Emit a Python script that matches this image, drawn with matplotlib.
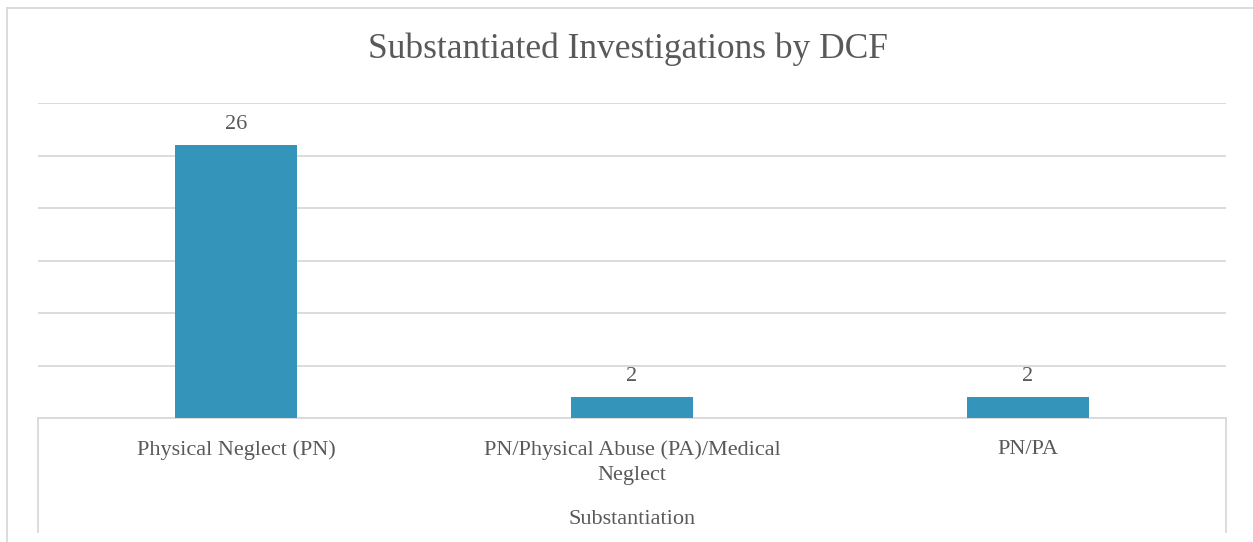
import matplotlib.pyplot as plt
from matplotlib.lines import Line2D

categories = ['Physical Neglect (PN)', 'PN/Physical Abuse (PA)/Medical\nNeglect', 'PN/PA']
counts = [26, 2, 2]

plt.rcParams['font.family'] = ['Liberation Serif', 'DejaVu Serif']
text_color = '#595959'
grid_color = '#d9d9d9'

W, H = 1253, 542
fig = plt.figure(figsize=(W / 100, H / 100), dpi=100)
ax = fig.add_axes([38 / W, 1 - 418 / H, (1226 - 38) / W, (418 - 103) / H])

x = range(len(categories))
bars = ax.bar(x, counts, width=0.31, color='#3494ba', zorder=3)
ax.bar_label(bars, padding=8, fontsize=16, color=text_color)

ax.set_xlim(-0.5, len(categories) - 0.5)
ax.set_ylim(0, 30)
ax.set_yticks(range(0, 31, 5))
ax.yaxis.grid(True, color=grid_color, linewidth=1.3)
ax.tick_params(axis='y', left=False, labelleft=False)
ax.tick_params(axis='x', length=0, pad=16, labelsize=16, labelcolor=text_color)
ax.set_xticks(list(x))
ax.set_xticklabels(categories, linespacing=1.4)
ax.set_xlabel('Substantiation', fontsize=16, color=text_color, labelpad=18)

for side in ['top', 'left', 'right']:
    ax.spines[side].set_visible(False)
ax.spines['bottom'].set_color(grid_color)
ax.spines['bottom'].set_linewidth(1.3)

# category box lines and outer chart border
def px_line(xs, ys):
    fig.add_artist(Line2D([v / W for v in xs], [1 - v / H for v in ys],
                          color=grid_color, linewidth=1.3))

px_line([38, 38], [418, 532])
px_line([1226, 1226], [418, 532])
px_line([7, W], [8, 8])
px_line([7, 7], [8, H])

fig.text(628 / W, 1 - 49 / H, 'Substantiated Investigations by DCF',
         ha='center', va='center', fontsize=25.5, color=text_color)

fig.savefig('out.png', dpi=100, facecolor='white')
